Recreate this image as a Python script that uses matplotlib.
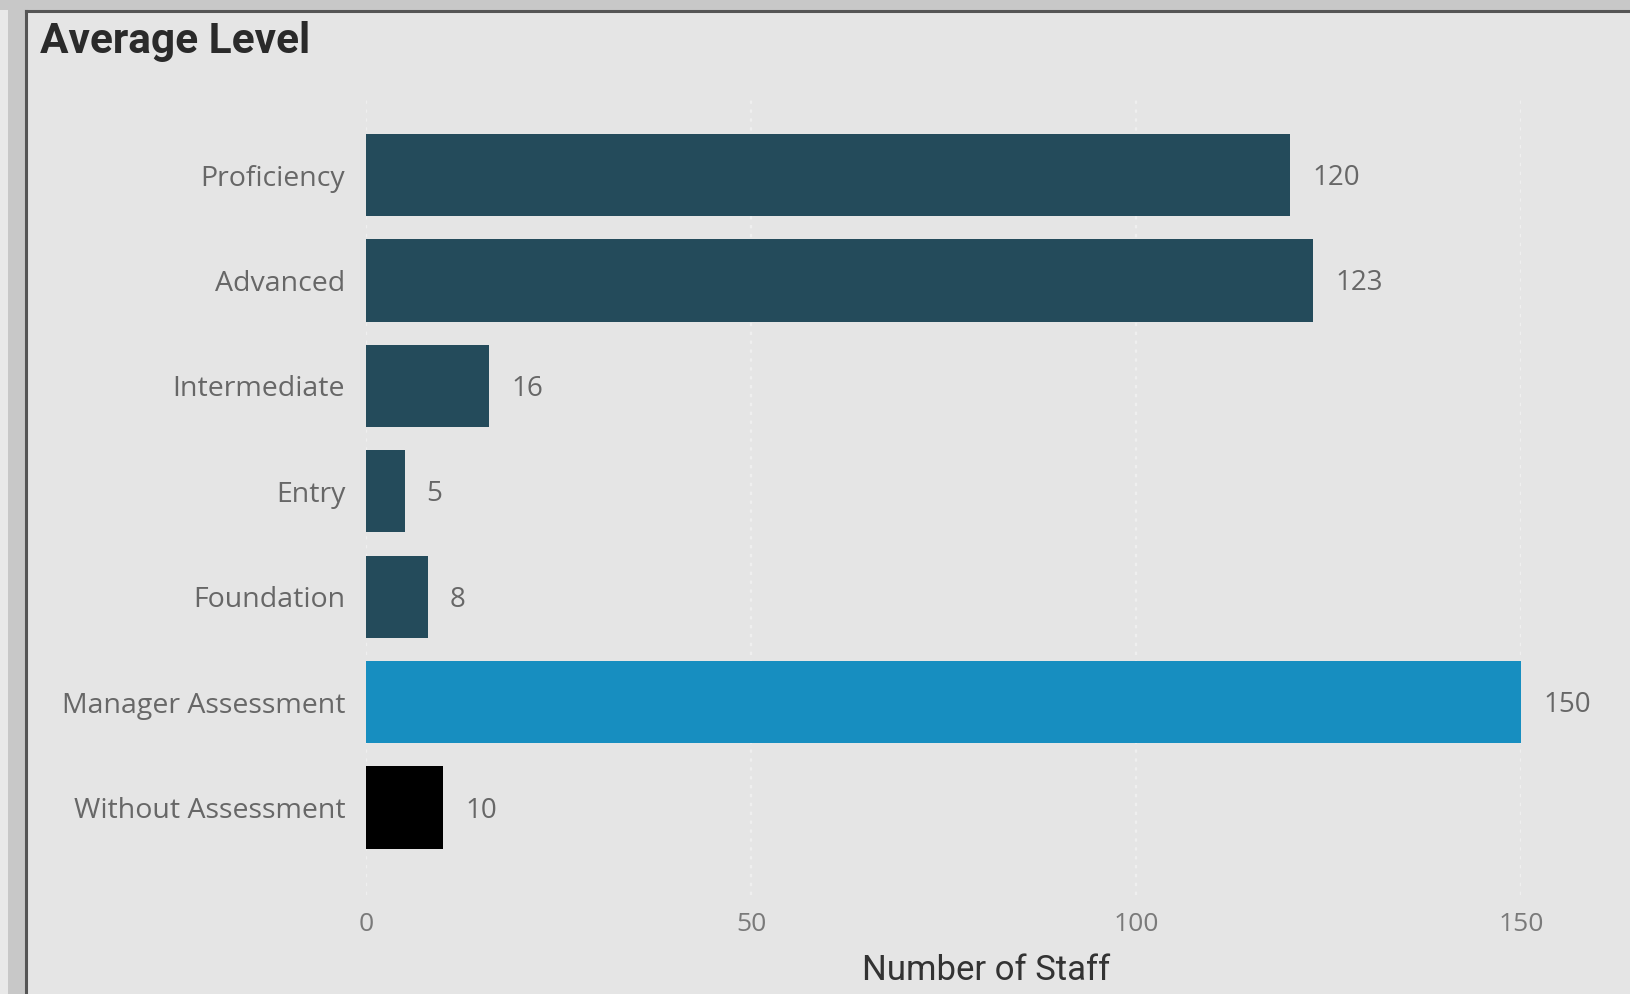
import matplotlib
matplotlib.use("Agg")
import matplotlib.pyplot as plt
from matplotlib.patches import Rectangle
from matplotlib.lines import Line2D

# Data
categories = ["Proficiency", "Advanced", "Intermediate", "Entry",
              "Foundation", "Manager Assessment", "Without Assessment"]
staff_counts = [120, 123, 16, 5, 8, 150, 10]
bar_colors = ["#244b5b", "#244b5b", "#244b5b", "#244b5b",
              "#244b5b", "#178ec0", "#000000"]
x_ticks = [0, 50, 100, 150]

title = "Average Level"
x_label = "Number of Staff"

W, H, DPI = 1630, 994, 100
fig = plt.figure(figsize=(W / DPI, H / DPI), dpi=DPI)
fig.patch.set_facecolor("#e5e5e5")

# Outer frame: grey strip on the left and top, dark border line around the panel
fig.add_artist(Rectangle((0, 0), 8 / W, 1, transform=fig.transFigure,
                         facecolor="#e9e9e9", edgecolor="none", zorder=0))
fig.add_artist(Rectangle((8 / W, 0), 17 / W, 1, transform=fig.transFigure,
                         facecolor="#c8c8c8", edgecolor="none", zorder=0))
fig.add_artist(Rectangle((0, 1 - 10 / H), 1, 10 / H, transform=fig.transFigure,
                         facecolor="#c8c8c8", edgecolor="none", zorder=0))
fig.add_artist(Line2D([25.5 / W, 25.5 / W], [0, 1 - 10.5 / H],
                      transform=fig.transFigure, color="#555555", lw=2.2))
fig.add_artist(Line2D([25.5 / W, 1], [1 - 10.5 / H, 1 - 10.5 / H],
                      transform=fig.transFigure, color="#555555", lw=2.2))

ax = fig.add_axes([366 / W, 1 - 895 / H, (1521 - 366) / W, (895 - 97) / H])
ax.set_facecolor("#e5e5e5")

y_pos = list(range(len(categories)))
ax.barh(y_pos, staff_counts, height=0.78, color=bar_colors, zorder=3)

ax.set_xlim(0, 150)
ax.set_ylim(6.83, -0.74)

ax.set_yticks(y_pos)
ax.set_yticklabels(categories, fontfamily="Open Sans", fontsize=20.5,
                   color="#676767")
ax.set_xticks(x_ticks)
ax.set_xticklabels([str(t) for t in x_ticks], fontfamily="Open Sans",
                   fontsize=19, color="#7a7a7a")
ax.tick_params(axis="y", length=0, pad=15)
ax.tick_params(axis="x", length=0, pad=12)

ax.grid(axis="x", color="#efefef", linestyle=(0, (1.5, 2.5)), lw=1.6, zorder=1)
ax.grid(axis="y", visible=False)
for s in ax.spines.values():
    s.set_visible(False)

# Value labels at the end of each bar
for y, v in zip(y_pos, staff_counts):
    ax.annotate(str(v), (v, y), xytext=(22, -3), textcoords="offset pixels",
                va="center", ha="left", fontfamily="Open Sans", fontsize=20,
                color="#676767")

fig.text(986 / W, 1 - 970 / H, x_label, fontfamily="Roboto", fontsize=25,
         color="#333333", va="center", ha="center")

fig.text(40 / W, 1 - 41 / H, title, fontfamily="Roboto",
         fontweight="bold", fontsize=30.5, color="#2a2a2a", va="center",
         ha="left")

fig.savefig("out.png", dpi=DPI, facecolor=fig.get_facecolor())
